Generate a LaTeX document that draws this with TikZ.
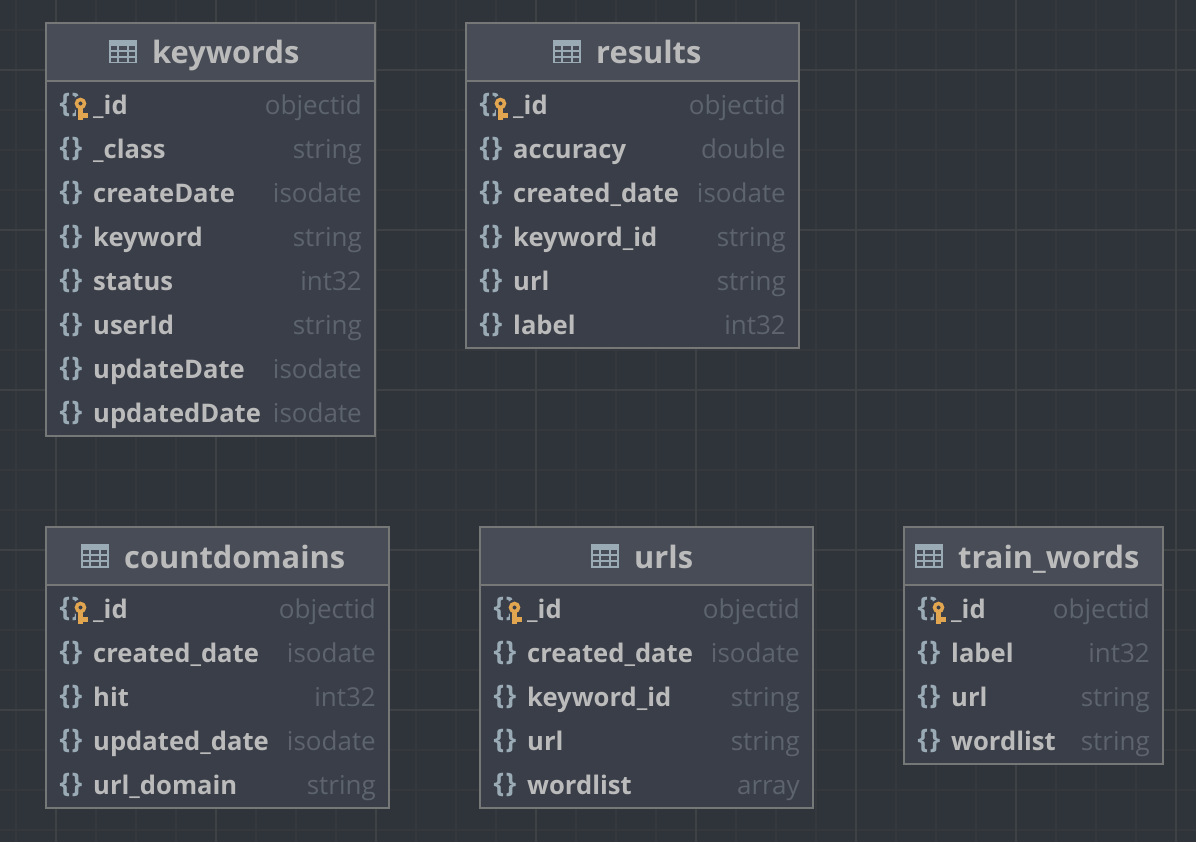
\documentclass[tikz,border=0pt]{standalone}
\usepackage{fontspec}
\setmainfont{Open Sans}
\definecolor{canvas}{HTML}{2F333A}
\definecolor{gridminor}{HTML}{35383D}
\definecolor{gridmajor}{HTML}{3F4244}
\definecolor{headfill}{HTML}{474C57}
\definecolor{bodyfill}{HTML}{393E49}
\definecolor{frameline}{HTML}{767878}
\definecolor{nametext}{HTML}{BBBBBB}
\definecolor{typetext}{HTML}{5E646E}
\definecolor{iconblue}{HTML}{9AABB6}
\definecolor{keygold}{HTML}{E2A550}
\tikzset{
  tablebody/.style={draw=frameline, line width=2pt, fill=bodyfill, anchor=north west, inner sep=0pt},
  tablehead/.style={draw=frameline, line width=2pt, fill=headfill, anchor=north west, inner sep=0pt},
  titletext/.style={anchor=base west, inner sep=0pt, text=nametext, font=\fontsize{30.8}{32}\selectfont\bfseries},
  fieldname/.style={anchor=base west, inner sep=0pt, text=nametext, font=\fontsize{25.6}{26}\selectfont\bfseries},
  fieldtype/.style={anchor=base east, inner sep=0pt, text=typetext, font=\fontsize{26}{26}\selectfont},
  bracemark/.style={inner sep=0pt, text=iconblue, font=\fontsize{27}{27}\selectfont\bfseries},
}
% #1 node name, #2 x, #3 y, #4 width, #5 height, #6 title icon x, #7 title, #8 rows
\newcommand{\dbtable}[8]{
  \node[tablebody, minimum width=#4pt, minimum height=#5pt] (#1) at ({#2-1},{#3-1}) {};
  \node[tablehead, minimum width=#4pt, minimum height=58pt] (#1head) at ({#2-1},{#3-1}) {};
  \fill[iconblue] (#6,{#3+17}) rectangle ++(28,23.5);
  \foreach \gy in {23.3,29,34.7} \foreach \gx/\gw in {1.7/6.3,9.7/8,19.7/6.3}
    \fill[headfill] ({#6+\gx},{#3+\gy}) rectangle ++(\gw,4);
  \node[titletext] (#1title) at ({#6+43},{#3+41}) {#7};
  \foreach \fname/\ftype [count=\i] in {#8} {
    \pgfmathsetmacro{\rowy}{#3+82+(\i-1)*44}
    \pgfmathsetmacro{\rowx}{#2+47}
    \pgfmathsetmacro{\rowr}{#2+#4-13}
    \pgfmathsetmacro{\rowb}{\rowy+9.5}
    \pgfmathsetmacro{\rowm}{#2+25}
    \node[bracemark] (#1brace\i) at (\rowm,{\rowy}) {\{\hspace{1.5pt}\}};
    \node[fieldname] (#1name\i) at (\rowx,\rowb) {\fname};
    \node[fieldtype] (#1type\i) at (\rowr,\rowb) {\ftype};
  }
  % key on the first row
  \fill[bodyfill] ({#2+34.5},{#3+80.5}) circle (8);
  \fill[bodyfill] ({#2+30},{#3+87}) rectangle ++(12,12);
  \draw[keygold, line width=3.5pt] ({#2+34.5},{#3+80.5}) circle (4);
  \fill[keygold] ({#2+32.2},{#3+85}) rectangle ++(4.6,12);
  \fill[keygold] ({#2+34.5},{#3+90}) rectangle ++(7,5);
}
\begin{document}
\begin{tikzpicture}[x=1pt,y=-1pt]
  \useasboundingbox (0,0) rectangle (1196,842);
  \fill[canvas] (0,0) rectangle (1196,842);
  \foreach \x in {16,56,...,1176} \draw[gridminor, line width=1.5pt] (\x,0) -- (\x,842);
  \foreach \y in {30,70,...,830} \draw[gridminor, line width=1.5pt] (0,\y) -- (1196,\y);
  \foreach \x in {56,216,...,1176} \draw[gridmajor, line width=1.5pt] (\x,0) -- (\x,842);
  \foreach \y in {70,230,...,710} \draw[gridmajor, line width=1.5pt] (0,\y) -- (1196,\y);

  \dbtable{keywords}{46}{23}{329}{413}{109}{keywords}{\_id/objectid, \_class/string, createDate/isodate, keyword/string, status/int32, userId/string, updateDate/isodate, updatedDate/isodate}
  \dbtable{results}{466}{23}{333}{325}{553}{results}{\_id/objectid, accuracy/double, created\_date/isodate, keyword\_id/string, url/string, label/int32}
  \dbtable{countdomains}{46}{527}{343}{281}{81}{countdomains}{\_id/objectid, created\_date/isodate, hit/int32, updated\_date/isodate, url\_domain/string}
  \dbtable{urls}{480}{527}{333}{281}{591}{urls}{\_id/objectid, created\_date/isodate, keyword\_id/string, url/string, wordlist/array}
  \dbtable{trainwords}{904}{527}{259}{237}{915}{train\_words}{\_id/objectid, label/int32, url/string, wordlist/string}
\end{tikzpicture}
\end{document}
